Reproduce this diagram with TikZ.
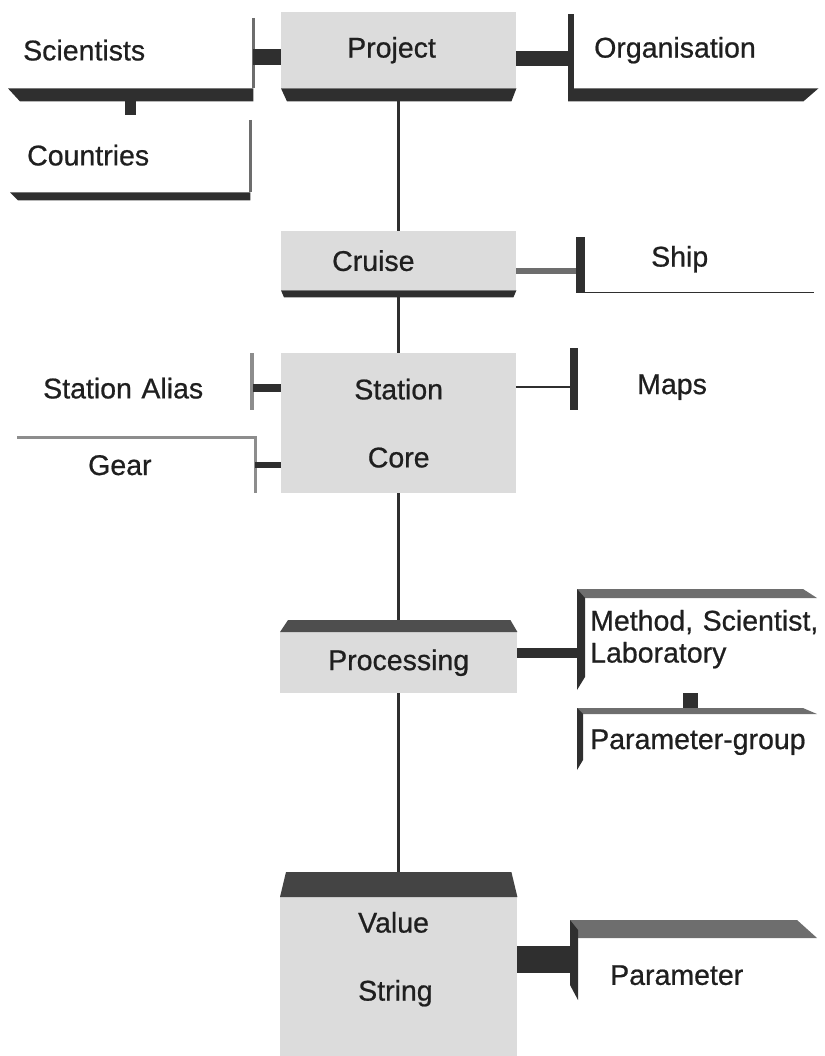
\documentclass[tikz,border=0pt]{standalone}
\usepackage{fontspec}
\setmainfont{Liberation Sans}[FakeBold=0.7]

\definecolor{boxgray}{HTML}{DCDCDC}
\definecolor{bar}{HTML}{2F2F2F}
\definecolor{midbar}{HTML}{6E6E6E}

\begin{document}
\begin{tikzpicture}[
  x=1pt, y=-1pt,
  every node/.style={font=\fontsize{28.5}{32}\selectfont, text=black!88},
  ent/.style={anchor=north west, inner ysep=0pt, align=left},
  core/.style={ent, fill=boxgray},
  lnk/.style={draw=bar},
  trunk/.style={draw=bar, line width=3pt}
]
\useasboundingbox (0,0) rectangle (824,1056);

\node[ent, inner xsep=15pt, text width=215pt, minimum height=76pt] (sci) at (8,12) {Scientists};
\node[ent, inner xsep=17pt, text width=206pt, minimum height=74pt] (ctry) at (10,118) {Countries};
\node[core, inner xsep=66pt, text width=103pt, minimum height=76pt] (proj) at (281,12) {Project};
\node[ent, inner xsep=26pt, text width=198pt, minimum height=76pt] (org) at (568,12) {Organisation};
\node[core, inner xsep=51pt, text width=133pt, minimum height=59pt] (cruise) at (281,231) {Cruise};
\node[ent, inner xsep=75pt, text width=88pt, minimum height=66pt] (ship) at (576,226) {Ship};
\node[core, minimum width=235pt, minimum height=140pt, align=center] (stat) at (281,353) {Station\\[36pt]Core};
\node[ent, inner xsep=26pt, text width=184pt, minimum height=70pt] (alias) at (17,353) {Station Alias};
\node[ent, inner xsep=71pt, text width=96pt, minimum height=56pt] (gear) at (17,437) {Gear};
\node[ent, inner xsep=67pt, text width=114pt, minimum height=78pt] (maps) at (570,348) {Maps};
\node[core, minimum width=237pt, minimum height=61pt, align=center] (proc) at (280,632) {Processing};
\node[ent, inner xsep=13pt, text width=240pt, minimum height=82pt] (meth) at (577,598) {Method, Scientist,\\Laboratory};
\node[ent, inner xsep=13pt, text width=225pt, minimum height=56pt] (pgrp) at (577,714) {Parameter-group};
\node[core, inner xsep=78pt, text width=81pt, minimum height=124pt] (val) at (280,897) {Value\\[36pt]String};
\node[ent, inner xsep=40pt, text width=167pt, minimum height=74pt] (par) at (570,938) {Parameter};

\fill[boxgray] (val.south west) rectangle ++(237,35);

\fill[bar] (sci.south west) -- (sci.south east) -- ++(0,13) -- ([xshift=12pt,yshift=-13pt]sci.south west) -- cycle;
\draw[bar!70, line width=2.5pt] ([yshift=-6pt]sci.north east) -- (sci.south east);
\fill[bar] (ctry.south west) -- (ctry.south east) -- ++(0,8) -- ([xshift=8pt,yshift=-8pt]ctry.south west) -- cycle;
\draw[bar!70, line width=2.5pt] ([yshift=-2pt]ctry.north east) -- (ctry.south east);
\fill[bar] (proj.south west) -- (proj.south east) -- ([xshift=-5pt,yshift=-13pt]proj.south east) -- ([xshift=6pt,yshift=-13pt]proj.south west) -- cycle;
\fill[bar] ([yshift=-2pt]org.north west) rectangle ([xshift=6pt,yshift=-13pt]org.south west);
\fill[bar] (org.south west) -- (org.south east) -- ([xshift=-15pt,yshift=-13pt]org.south east) -- ([yshift=-13pt]org.south west) -- cycle;
\fill[bar] (cruise.south west) -- (cruise.south east) -- ([xshift=-3pt,yshift=-7pt]cruise.south east) -- ([xshift=3pt,yshift=-7pt]cruise.south west) -- cycle;
\fill[bar] ([yshift=-11pt]ship.north west) rectangle ([xshift=9pt]ship.south west);
\draw[bar, line width=1.5pt] (ship.south west) -- (ship.south east);
\draw[bar!55, line width=4pt] ([xshift=-1pt]alias.north east) -- ([xshift=-1pt,yshift=13pt]alias.south east);
\draw[bar!55, line width=3pt] (gear.north west) -- (gear.north east) -- (gear.south east);
\fill[bar] (maps.north west) rectangle ([xshift=8pt,yshift=16pt]maps.south west);
\fill[bar!85] (proc.north west) -- ([xshift=8pt,yshift=12pt]proc.north west) -- ([xshift=-7pt,yshift=12pt]proc.north east) -- (proc.north east) -- cycle;
\fill[midbar] (meth.north west) -- ++(240,0) -- ++(-14,-9) -- ([yshift=9pt]meth.north west) -- cycle;
\fill[bar] ([yshift=9pt]meth.north west) -- ++(8,9) -- ++(0,79) -- ++(-8,13) -- cycle;
\fill[midbar] (pgrp.north west) -- ++(240,0) -- ++(-14,-6) -- ([yshift=6pt]pgrp.north west) -- cycle;
\fill[bar] ([yshift=6pt]pgrp.north west) -- ++(6,6) -- ++(0,46) -- ++(-6,10) -- cycle;
\fill[bar!90] (val.north west) -- ([xshift=6pt,yshift=25pt]val.north west) -- ([xshift=-6pt,yshift=25pt]val.north east) -- (val.north east) -- cycle;
\fill[midbar] (par.north west) -- ++(247,0) -- ++(-20,-18) -- ([yshift=18pt]par.north west) -- cycle;
\fill[bar] ([yshift=18pt]par.north west) -- ++(8,10) -- ++(0,70) -- ++(-8,-15) -- cycle;

\draw[trunk] ([yshift=-13pt]proj.south) -- (cruise.north);
\draw[trunk] ([yshift=-7pt]cruise.south) -- (stat.north);
\draw[trunk] (stat.south) -- ([yshift=12pt]proc.north);
\draw[trunk] (proc.south) -- ([yshift=25pt]val.north);

\draw[lnk, line width=16pt] ([yshift=-7pt]sci.east) -- ([yshift=-7pt]sci.east -| proj.west);
\draw[lnk, line width=15pt] ([yshift=-8pt]proj.east) -- ([yshift=-8pt]proj.east -| org.west);
\draw[lnk, line width=11pt] ([yshift=-13pt]sci.south) -- ([yshift=3pt]sci.south |- ctry.north);
\draw[lnk, draw=bar!70, line width=6pt] ([yshift=-10pt]cruise.east) -- ([yshift=-10pt]cruise.east -| ship.west);
\draw[lnk, line width=8pt] (alias.east) -- (alias.east -| stat.west);
\draw[lnk, line width=6pt] (gear.east) -- (gear.east -| stat.west);
\draw[lnk, line width=1.5pt] (maps.west -| stat.east) -- (maps.west);
\draw[lnk, line width=10pt] ([yshift=10pt]proc.east) -- ([yshift=10pt]proc.east -| meth.west);
\draw[lnk, line width=15pt] ([xshift=113pt,yshift=-13pt]meth.south west) -- ([xshift=113pt,yshift=6pt]pgrp.north west);
\draw[lnk, line width=27pt] (val.east) -- (val.east -| par.west);
\end{tikzpicture}
\end{document}
